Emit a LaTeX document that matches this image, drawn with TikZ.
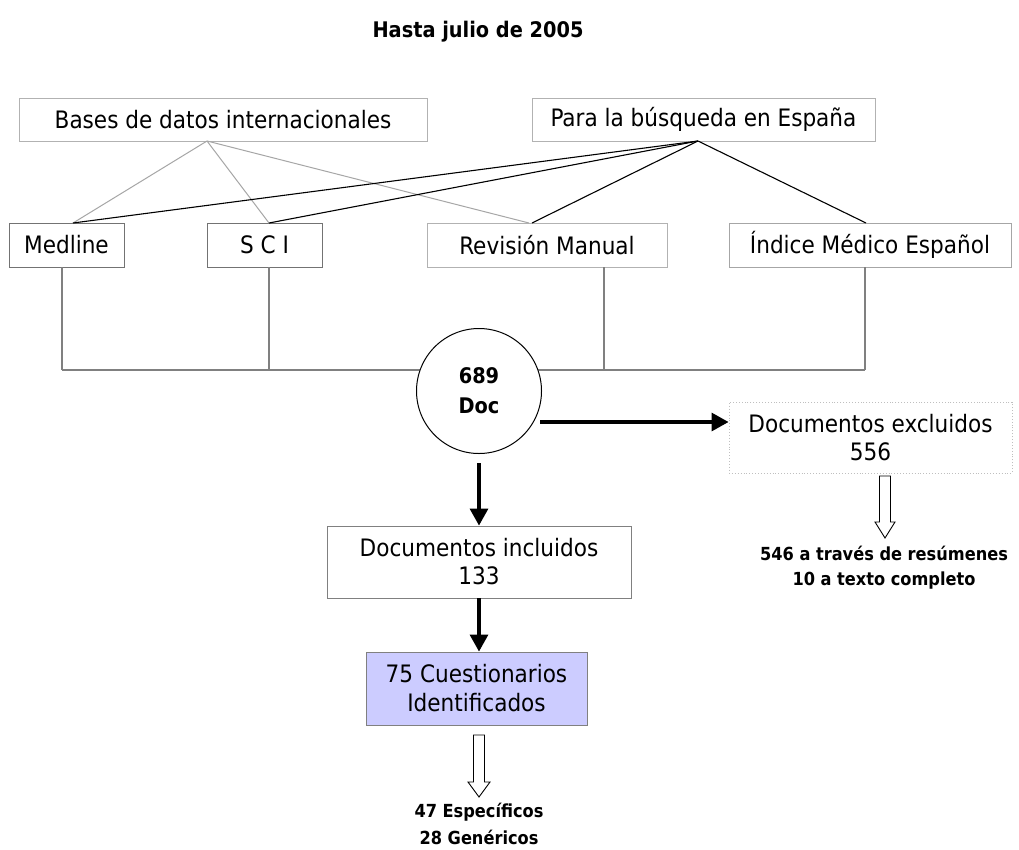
\documentclass[tikz,border=0pt]{standalone}
\usepackage{fontspec}
\setmainfont{DejaVu Sans Condensed}
\usetikzlibrary{arrows.meta}
\definecolor{lav}{HTML}{CCCCFF}
\tikzset{
  box/.style={draw=black!45, line width=0.9pt, inner sep=0pt, align=center, font=\fontsize{24}{28}\selectfont},
  thinline/.style={draw=black!35, line width=1pt},
  darkline/.style={draw=black, line width=1.1pt},
  vline/.style={draw=black!50, line width=1.1pt},
  bigarrow/.style={line width=3.2pt, -{Triangle[length=17pt,width=18pt]}},
  hollow/.style={draw=black, line width=0.9pt, fill=white},
  btext/.style={align=center, font=\bfseries\fontsize{18}{25}\selectfont, inner sep=0pt}
}
\begin{document}
\begin{tikzpicture}[x=1pt,y=-1pt]
\useasboundingbox (0,0) rectangle (1019,849);
\fill[white] (0,0) rectangle (1019,849);

\node[font=\bfseries\fontsize{21.5}{26}\selectfont] (title) at (478,32) {Hasta julio de 2005};

\node[box, draw=black!30, minimum width=408pt, minimum height=43pt] (bases) at (223,119.5) {Bases de datos internacionales};
\node[box, draw=black!30, minimum width=343pt, minimum height=43pt] (para) at (703.5,119.5) {Para la búsqueda en España};

\node[box, draw=black!55, minimum width=115pt, minimum height=44pt] (med) at (66.5,245) {Medline};
\node[box, draw=black!55, minimum width=115pt, minimum height=44pt] (sci) at (264.5,245) {S C I};
\node[box, draw=black!30, minimum width=240pt, minimum height=44pt] (rev) at (547,245) {Revisión Manual};
\node[box, draw=black!35, minimum width=282pt, minimum height=44pt] (ind) at (870,245) {Índice Médico Español};

\coordinate (bA) at (207,141);
\coordinate (pA) at (698,141);
\coordinate (medT) at (73,223);
\coordinate (sciT) at (269,223);
\coordinate (revTa) at (529,223);
\coordinate (revTb) at (532,223);
\coordinate (indT) at (866,223);

\draw[thinline] (bA) -- (medT);
\draw[thinline] (bA) -- (sciT);
\draw[thinline] (bA) -- (revTa);
\draw[darkline] (pA) -- (medT);
\draw[darkline] (pA) -- (sciT);
\draw[darkline] (pA) -- (revTb);
\draw[darkline] (pA) -- (indT);

\coordinate (medB) at (62,267);
\coordinate (sciB) at (269,267);
\coordinate (revB) at (604,267);
\coordinate (indB) at (865,267);
\coordinate (h1) at (62,370);
\coordinate (h2) at (269,370);
\coordinate (h3) at (604,370);
\coordinate (h4) at (865,370);
\draw[vline] (medB) -- (h1);
\draw[vline] (sciB) -- (h2);
\draw[vline] (revB) -- (h3);
\draw[vline] (indB) -- (h4);
\draw[vline] (h1) -- (h4);

\node[circle, draw=black, line width=1pt, fill=white, minimum size=125pt, inner sep=0pt, align=center, font=\bfseries\fontsize{21.5}{30}\selectfont] (doc) at (479,391) {689\\Doc};

\node[box, draw=black!25, dotted, minimum width=283pt, minimum height=71pt] (exc) at (870.5,437.5) {Documentos excluidos\\556};
\node[box, draw=black!50, minimum width=304pt, minimum height=72pt] (inc) at (479,562) {Documentos incluidos\\133};
\node[box, draw=black!50, fill=lav, minimum width=221pt, minimum height=73pt, font=\fontsize{24}{29}\selectfont] (cue) at (476.5,688.5) {75 Cuestionarios\\Identificados};

\coordinate (aS) at (540,422);
\draw[bigarrow] (aS) -- (aS -| exc.west);
\coordinate (dS) at (479,463);
\draw[bigarrow] (dS) -- (inc.north);
\draw[bigarrow] (inc.south) -- (inc.south |- cue.north);

% hollow arrows
\draw[hollow] (879.5,476) -- (890.5,476) -- (890.5,522) -- (895,522) -- (885,538) -- (875,522) -- (879.5,522) -- cycle;
\draw[hollow] (473.5,735) -- (484.5,735) -- (484.5,782) -- (490,782) -- (479,797) -- (468,782) -- (473.5,782) -- cycle;

\node[btext] (r1) at (884,567.5) {546 a través de resúmenes\\10 a texto completo};
\node[btext, font=\bfseries\fontsize{18}{27}\selectfont] (r2) at (479,823.5) {47 Específicos\\28 Genéricos};
\end{tikzpicture}
\end{document}
